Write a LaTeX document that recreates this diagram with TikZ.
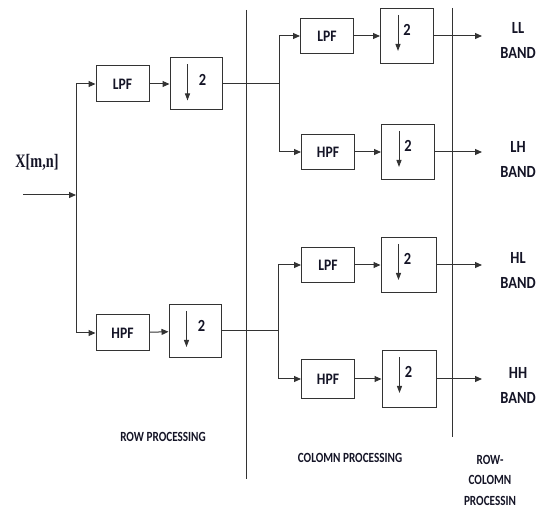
\documentclass[tikz,border=0pt]{standalone}
\usepackage{fontspec}
\setmainfont{Carlito}
\newfontfamily\xfont[FakeStretch=0.75]{Liberation Serif}
\newfontfamily\condfont[FakeStretch=0.85]{Carlito}
\newfontfamily\capfont[FakeStretch=0.8]{Carlito}
\usetikzlibrary{arrows.meta}
\definecolor{lc}{gray}{0.2}
\definecolor{tc}{rgb}{0.08,0.08,0.15}
\begin{document}
\begin{tikzpicture}[x=1pt,y=-1pt,
  box/.style={draw=lc, line width=1pt, minimum width=53pt, minimum height=36pt, inner sep=0pt, text=tc, font=\condfont\fontsize{16}{16}\selectfont\bfseries},
  dsbox/.style={draw=lc, line width=1pt, minimum width=53pt, minimum height=55pt, inner sep=0pt},
  wire/.style={draw=lc, line width=1pt},
  arr/.style={wire, -{Triangle[length=7pt,width=6pt]}},
  lbl/.style={text=tc, font=\condfont\fontsize{17}{25}\selectfont\bfseries, align=center},
  sectcap/.style={text=tc, font=\capfont\fontsize{14}{20.5}\selectfont\bfseries, align=center}]
\useasboundingbox (0,0) rectangle (539,510);
% section dividers
\coordinate (v1t) at (246,10);
\coordinate (v1b) at (246,479);
\coordinate (v2t) at (452,8);
\coordinate (v2b) at (452,437);
\draw[wire] (v1t) -- (v1b);
\draw[wire] (v2t) -- (v2b);
% input
\node[text=tc, font=\xfont\fontsize{19}{19}\selectfont\bfseries] (xin) at (37,162) {X[m,n]};
\coordinate (in) at (23,195);
\coordinate (s1) at (76,195);
\coordinate (s1t) at (76,84);
\coordinate (s1b) at (76,333);
% row stage
\node[box] (lpf1) at (122.5,84) {LPF};
\node[dsbox, minimum width=52pt, minimum height=52pt] (ds1) at (196,84) {};
\node[box] (hpf1) at (122.5,333) {HPF};
\node[dsbox, minimum width=52pt, minimum height=53pt] (ds2) at (195,331) {};
% column stage
\coordinate (c1) at (279,84);
\coordinate (c1t) at (279,36);
\coordinate (c1b) at (279,152);
\coordinate (c2) at (278,331);
\coordinate (c2t) at (278,265);
\coordinate (c2b) at (278,379);
\node[box, minimum height=35pt] (lpf2) at (327,36) {LPF};
\node[dsbox] (ds3) at (407,36) {};
\node[box, minimum height=35pt] (hpf2) at (328,152) {HPF};
\node[dsbox] (ds4) at (408,152) {};
\node[box, minimum height=35pt] (lpf3) at (328,265) {LPF};
\node[dsbox, minimum width=55pt] (ds5) at (408.5,265) {};
\node[box, minimum height=39pt] (hpf3) at (328,379) {HPF};
\node[dsbox, minimum width=54pt, minimum height=57pt] (ds6) at (409,379) {};
% downsampler symbols
\foreach \d/\dx in {ds1/33,ds2/33,ds3/27,ds4/27,ds5/27,ds6/27}{
  \draw[wire, -{Triangle[length=7pt,width=5pt]}] ([shift={(18,7)}]\d.north west) -- ++(0,36);
  \node[text=tc, font=\condfont\fontsize{17}{17}\selectfont\bfseries] at ([shift={(\dx,22)}]\d.north west) {2};
}
% connectors
\draw[arr] (in) -- (s1);
\draw[wire] (s1t) -- (s1b);
\draw[arr] (s1t) -- (lpf1.west);
\draw[arr] (s1b) -- (hpf1.west);
\draw[arr] (lpf1) -- (ds1);
\draw[arr] (hpf1) -- (ds2);
\draw[wire] (ds1.east) -- (c1);
\draw[wire] (ds2.east) -- (c2);
\draw[wire] (c1t) -- (c1b);
\draw[wire] (c2t) -- (c2b);
\draw[arr] (c1t) -- (lpf2.west);
\draw[arr] (c1b) -- (hpf2.west);
\draw[arr] (c2t) -- (lpf3.west);
\draw[arr] (c2b) -- (hpf3.west);
\draw[arr] (lpf2) -- (ds3);
\draw[arr] (hpf2) -- (ds4);
\draw[arr] (lpf3) -- (ds5);
\draw[arr] (hpf3) -- (ds6);
\coordinate (o1) at (482,36);
\coordinate (o2) at (482,152);
\coordinate (o3) at (482,265);
\coordinate (o4) at (482,379);
\draw[arr] (ds3.east) -- (o1);
\draw[arr] (ds4.east) -- (o2);
\draw[arr] (ds5.east) -- (o3);
\draw[arr] (ds6.east) -- (o4);
% band labels
\node[lbl] (ll) at (518,40) {LL\\BAND};
\node[lbl] (lh) at (518,159.5) {LH\\BAND};
\node[lbl] (hl) at (518,270.5) {HL\\BAND};
\node[lbl] (hh) at (518,385) {HH\\BAND};
% section captions
\node[sectcap] (rowp) at (163,437) {ROW PROCESSING};
\node[sectcap] (colp) at (350,458) {COLOMN PROCESSING};
\node[sectcap] (rcp) at (490,480) {ROW-\\COLOMN\\PROCESSIN};
\end{tikzpicture}
\end{document}
